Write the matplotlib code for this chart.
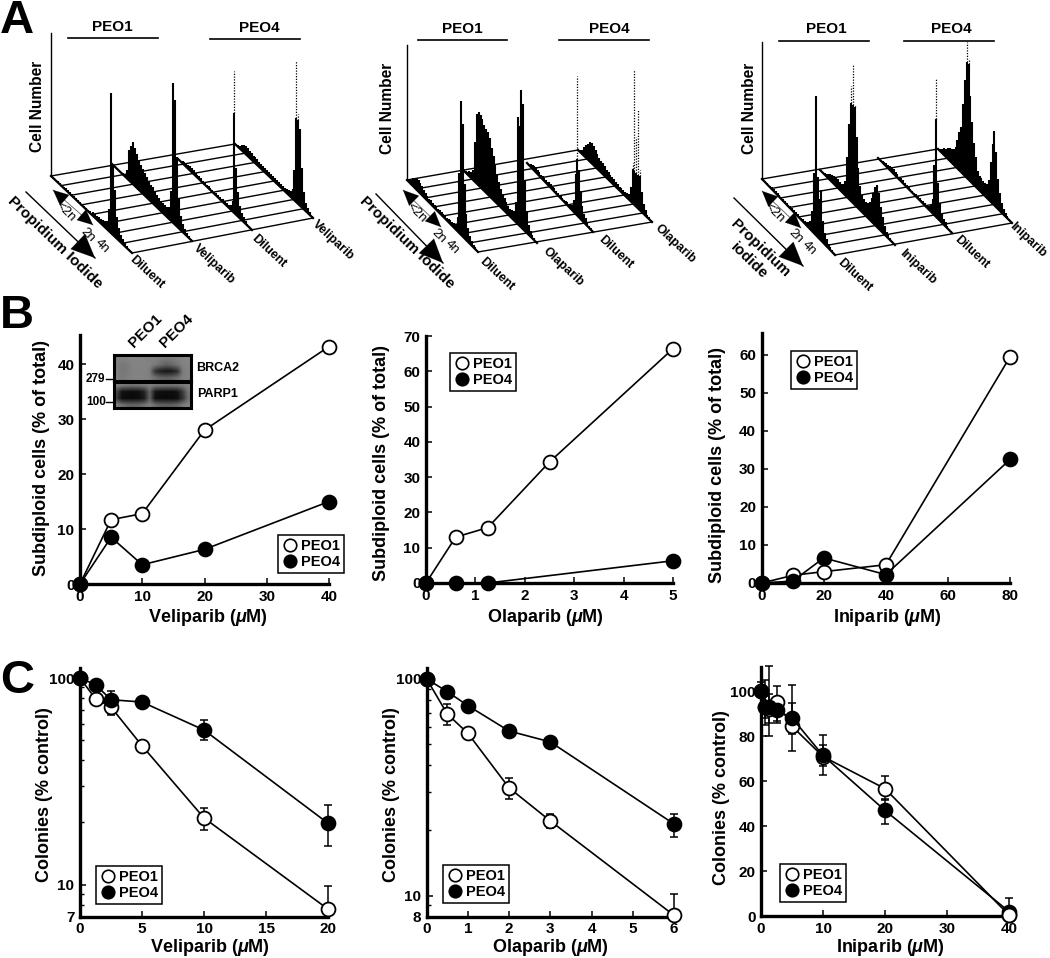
import matplotlib
matplotlib.use("Agg")
import matplotlib.pyplot as plt
import numpy as np
from matplotlib.lines import Line2D

W = 1050
H = 958

plt.rcParams['font.family'] = ['Liberation Sans', 'DejaVu Sans']
plt.rcParams['font.weight'] = 'bold'
plt.rcParams['mathtext.fontset'] = 'custom'
plt.rcParams['mathtext.it'] = 'Liberation Sans:italic:bold'
plt.rcParams['mathtext.rm'] = 'Liberation Sans:bold'

# panel B data
b1_x = [0, 5, 10, 20, 40]
b1_peo1 = [0, 11.7, 12.8, 28, 43.2]
b1_peo4 = [0, 8.5, 3.5, 6.3, 15]
b2_x1 = [0, 0.6, 1.25, 2.5, 5]
b2_peo1 = [0, 13, 15.7, 34.3, 66.4]
b2_x4 = [0, 0.6, 1.25, 5]
b2_peo4 = [0, 0, 0, 6.3]
b3_x = [0, 10, 20, 40, 80]
b3_peo1 = [0, 2, 3, 4.8, 59.5]
b3_peo4 = [0, 0.5, 6.6, 2.2, 32.5]

# panel C data, low/high are the ends of the error bars
c1_x = [0, 1.25, 2.5, 5, 10, 20]
c1_peo1 = [100, 79.3, 72.3, 47, 21, 7.6]
c1_peo1_lo = [100, 79.3, 66, 47, 18.4, 7.6]
c1_peo1_hi = [100, 79.3, 72.3, 47, 23.6, 9.8]
c1_peo4 = [100, 92.8, 78.5, 76.5, 56, 19.8]
c1_peo4_lo = [100, 92.8, 72, 76.5, 50.2, 15.3]
c1_peo4_hi = [100, 92.8, 86.5, 76.5, 62.3, 24.4]

c2_x = [0, 0.5, 1, 2, 3, 6]
c2_peo1 = [100, 68.9, 56.1, 31.4, 22.1, 8.1]
c2_peo1_lo = [100, 61.5, 56.1, 27.9, 20.5, 8.1]
c2_peo1_hi = [100, 76.4, 56.1, 34.9, 23.9, 10.2]
c2_peo4 = [100, 87.4, 75.3, 57.5, 51.2, 21.4]
c2_peo4_lo = [100, 87.4, 75.3, 57.5, 51.2, 18.6]
c2_peo4_hi = [100, 87.4, 75.3, 57.5, 51.2, 23.9]

c3_x = [0, 0.6, 1.25, 2.5, 5, 10, 20, 40]
c3_peo1 = [100, 93, 92, 95.5, 84.5, 71, 56.7, 0.4]
c3_peo1_lo = [100, 85, 80, 86, 73.5, 63, 51.6, 0.4]
c3_peo1_hi = [100, 105, 111.5, 102.4, 95, 80.6, 62.5, 0.4]
c3_peo4 = [100, 93, 93, 91.5, 88.2, 71.5, 47, 2]
c3_peo4_lo = [100, 88, 86, 87, 81, 67, 40.8, 0]
c3_peo4_hi = [104, 98, 99, 96, 102.8, 76, 52, 7.9]

# panel A histograms, 40 bins back to front, height in pixels
vel_p1_dil = [1, 1, 1, 2, 2, 2, 2, 2, 2, 2, 2, 2, 2, 2, 2, 2, 2, 2, 2, 3, 3, 3, 3, 4, 4, 5, 6, 8, 22, 140, 70, 47, 22, 12, 7, 5, 3, 2, 1, 1]
vel_p1_trt = [0, 0, 1, 1, 1, 2, 3, 8, 30, 36, 42, 38, 34, 30, 27, 25, 23, 21, 19, 17, 16, 14, 12, 11, 10, 10, 10, 10, 12, 30, 140, 125, 70, 30, 14, 8, 5, 3, 2, 1]
vel_p4_dil = [0, 1, 2, 3, 4, 4, 5, 4, 4, 3, 3, 3, 3, 2, 2, 2, 2, 2, 2, 2, 2, 2, 2, 2, 3, 3, 3, 3, 5, 10, 142, 47, 25, 12, 7, 5, 3, 2, 1, 1]
vel_p4_trt = [1, 2, 3, 5, 7, 8, 8, 7, 7, 6, 6, 6, 5, 5, 5, 5, 5, 4, 4, 4, 4, 4, 4, 3, 3, 3, 4, 5, 6, 10, 30, 141, 90, 77, 40, 18, 9, 5, 3, 1]

ola_p1_dil = [2, 3, 5, 8, 10, 12, 12, 11, 9, 7, 6, 5, 4, 4, 3, 3, 3, 3, 3, 3, 3, 3, 3, 3, 4, 4, 5, 6, 14, 60, 134, 113, 55, 26, 14, 8, 5, 3, 2, 1]
ola_p1_trt = [1, 2, 3, 5, 6, 10, 40, 70, 74, 72, 70, 66, 64, 63, 58, 50, 44, 37, 30, 24, 18, 15, 13, 11, 9, 8, 8, 9, 20, 107, 100, 137, 125, 50, 22, 10, 6, 3, 2, 1]
ola_p4_dil = [0, 1, 3, 4, 5, 5, 4, 4, 3, 3, 3, 3, 3, 4, 4, 3, 3, 2, 2, 2, 2, 2, 2, 3, 3, 3, 4, 5, 12, 40, 140, 47, 28, 15, 9, 6, 4, 2, 1, 1]
ola_p4_trt = [1, 3, 5, 9, 13, 16, 20, 21, 19, 17, 15, 13, 12, 11, 10, 8, 8, 7, 6, 6, 5, 5, 4, 4, 4, 4, 5, 6, 14, 40, 135, 70, 99, 40, 20, 10, 6, 3, 2, 1]

ini_p1_dil = [1, 1, 1, 1, 2, 2, 2, 2, 2, 2, 2, 2, 2, 2, 2, 2, 2, 2, 2, 2, 2, 2, 3, 3, 4, 5, 8, 20, 60, 139, 60, 40, 51, 22, 12, 7, 4, 3, 2, 1]
ini_p1_trt = [0, 1, 2, 3, 4, 6, 7, 8, 8, 9, 8, 8, 9, 14, 40, 75, 115, 139, 100, 70, 40, 24, 17, 15, 14, 15, 18, 24, 30, 38, 42, 36, 24, 16, 9, 5, 3, 2, 1, 0]
ini_p4_dil = [0, 1, 2, 3, 3, 3, 4, 5, 5, 4, 4, 3, 3, 3, 2, 2, 2, 2, 2, 2, 2, 2, 2, 2, 3, 3, 3, 4, 6, 14, 50, 139, 36, 18, 9, 6, 4, 2, 1, 1]
ini_p4_trt = [1, 3, 5, 7, 8, 11, 13, 14, 16, 20, 28, 38, 45, 70, 96, 136, 120, 85, 61, 42, 30, 18, 15, 14, 13, 13, 14, 20, 40, 60, 74, 55, 30, 18, 10, 6, 4, 2, 1, 1]

# bars above these heights are dotted in the reference
solid_heights = [[999, 999, 100, 84], [999, 999, 57, 34], [999, 98, 98, 116]]

hist_sets = [[vel_p1_dil, vel_p1_trt, vel_p4_dil, vel_p4_trt],
             [ola_p1_dil, ola_p1_trt, ola_p4_dil, ola_p4_trt],
             [ini_p1_dil, ini_p1_trt, ini_p4_dil, ini_p4_trt]]

drugs = ['Veliparib', 'Olaparib', 'Iniparib']

# start (back) and end (front) of the four rows of each 3D plot, in pixels
row_back = [[(51, 176), (112, 164), (178, 159), (235, 144)],
            [(407, 180), (463, 170), (527, 163), (578, 150)],
            [(762, 179), (820, 170), (878, 158), (938, 149)]]
row_front = [[(132, 253), (192, 241), (252, 230), (313, 218)],
             [(478, 252), (537, 243), (593, 232), (652, 222)],
             [(835, 255), (895, 245), (952, 233), (1012, 223)]]
axis_top = [33, 45, 42]
n_grid = 9

fig = plt.figure(figsize=(W / 100, H / 100), dpi=100)
ov = fig.add_axes([0, 0, 1, 1], zorder=10)
ov.set_xlim(0, W)
ov.set_ylim(H, 0)
ov.axis('off')
ov.patch.set_alpha(0)


def px_axes(x0, x1, y_bottom, y_top):
    return fig.add_axes([x0 / W, 1 - y_bottom / H, (x1 - x0) / W, (y_bottom - y_top) / H])


def arrow(p0, p1, scale, head):
    ov.annotate('', xy=p1, xytext=p0,
                arrowprops=dict(arrowstyle='-|>,head_length=%g,head_width=%g' % head,
                                mutation_scale=scale, color='k', lw=0.1, shrinkA=0, shrinkB=0))


# panel A
for p in range(3):
    back = row_back[p]
    front = row_front[p]
    ov.plot([back[0][0], back[0][0]], [back[0][1], axis_top[p]], color='k', lw=1)
    for g in np.linspace(0, 1, n_grid):
        xa = back[0][0] + g * (front[0][0] - back[0][0])
        ya = back[0][1] + g * (front[0][1] - back[0][1])
        xb = back[3][0] + g * (front[3][0] - back[3][0])
        yb = back[3][1] + g * (front[3][1] - back[3][1])
        ov.plot([xa, xb], [ya, yb], color='k', lw=1)
    for r in range(4):
        ov.plot([back[r][0], front[r][0]], [back[r][1], front[r][1]], color='k', lw=1.6)
        heights = np.array(hist_sets[p][r], dtype=float)
        t = (np.arange(40) + 0.5) / 40
        xs = back[r][0] + t * (front[r][0] - back[r][0])
        ys = back[r][1] + t * (front[r][1] - back[r][1])
        solid = np.minimum(heights, solid_heights[p][r])
        ov.vlines(xs, ys, ys - solid, color='k', lw=1.5)
        over = heights > solid
        if over.any():
            ov.vlines(xs[over], (ys - solid)[over], (ys - heights)[over], color='k', lw=0.9,
                      linestyles=(0, (1, 1.2)))

peo_labels = [[(112, 27, 68, 158, 38), (259, 28, 210, 300, 38.5)],
              [(462, 29, 418, 507, 40), (609, 29, 559, 649, 40)],
              [(826, 29, 779, 869, 41), (951, 29, 904, 994, 41)]]
for p in range(3):
    for k, name in enumerate(['PEO1', 'PEO4']):
        tx, ty, x0, x1, yl = peo_labels[p][k]
        ov.text(tx, ty, name, ha='center', va='center', fontsize=11)
        ov.plot([x0, x1], [yl, yl], color='k', lw=1.2)

cell_pos = [(37, 106), (387, 108), (749, 108)]
for x, y in cell_pos:
    ov.text(x, y, 'Cell Number', rotation=90, ha='center', va='center', fontsize=11.2)

end_labels = [[(147, 272), (214, 264), (269, 251), (333, 240)],
              [(497, 274), (563, 267), (616, 252), (675, 244)],
              [(855, 275), (918, 267), (972, 252), (1028, 240)]]
for p in range(3):
    names = ['Diluent', drugs[p], 'Diluent', drugs[p]]
    for (x, y), name in zip(end_labels[p], names):
        ov.text(x, y, name, rotation=-43, ha='center', va='center', fontsize=9,
                rotation_mode='anchor')

pi_lines = [((26, 192), (95, 258)), ((376, 194), (443, 263)), ((734, 198), (803, 266))]
for p0, p1 in pi_lines:
    ov.plot([p0[0], p1[0]], [p0[1], p1[1]], color='k', lw=1)
    arrow(p0, p1, 10, (1.7, 0.75))
pi_texts = [(55, 243, 'Propidium Iodide'), (407, 243, 'Propidium Iodide'),
            (760, 248, 'Propidium'), (749, 261, 'iodide')]
for x, y, name in pi_texts:
    ov.text(x, y, name, rotation=-44, ha='center', va='center', fontsize=11,
            rotation_mode='anchor')

sub_arrows = [((53, 190), (93, 225)), ((403, 190), (441, 227)), ((762, 191), (801, 228))]
for p0, p1 in sub_arrows:
    ov.plot([p0[0], p1[0]], [p0[1], p1[1]], color='#aaaaaa', lw=0.7)
    arrow(p1, p0, 10, (1.1, 0.5))
    arrow(p0, p1, 10, (1.1, 0.5))
n_labels = [[(65, 212), (88, 235), (102, 246)],
            [(416, 213), (439, 236), (452, 247)],
            [(774, 213), (796, 236), (809, 248)]]
for p in range(3):
    for (x, y), name in zip(n_labels[p], ['<2n', '2n', '4n']):
        ov.text(x, y, name, rotation=-45, ha='center', va='center', fontsize=9.5,
                fontweight='normal', rotation_mode='anchor')

ov.text(0, 33, 'A', fontsize=34, ha='left', va='baseline')
ov.text(0, 328, 'B', fontsize=34, ha='left', va='baseline')
ov.text(0, 693, 'C', fontsize=34, ha='left', va='baseline')

# panel B
b_axes = [px_axes(80, 329, 584, 335), px_axes(426, 673, 583, 336), px_axes(761.7, 1010, 583, 333.3)]
b_ylim = [45.3, 70, 65.7]
b_xlim = [40, 5, 80]
b_xticks = [[0, 10, 20, 30, 40], [0, 1, 2, 3, 4, 5], [0, 20, 40, 60, 80]]
b_yticks = [[0, 10, 20, 30, 40], [0, 10, 20, 30, 40, 50, 60, 70], [0, 10, 20, 30, 40, 50, 60]]
b_data = [(b1_x, b1_peo1, b1_x, b1_peo4), (b2_x1, b2_peo1, b2_x4, b2_peo4), (b3_x, b3_peo1, b3_x, b3_peo4)]
b_xlabel = [(208, 617), (545, 617), (887, 617)]
b_ylabel = [(42, 458), (381, 463), (718, 465)]
b_legend = [(311, 554), (483, 372), (824, 370)]
c_xlabel = [(210, 948), (550, 948), (890, 948)]
c_ylabel = [(45, 795), (391, 795), (722, 798)]
c_legend = [(129, 885), (476, 884), (813, 883)]


def style(ax, xlab_pos, ylab_pos, xlab, ylab, leg_pos):
    ax.spines['top'].set_visible(False)
    ax.spines['right'].set_visible(False)
    ax.spines['left'].set_linewidth(2.4)
    ax.spines['bottom'].set_linewidth(2.4)
    ax.tick_params(which='major', direction='in', length=4, width=1.1, labelsize=11, pad=4)
    ax.tick_params(which='minor', direction='in', length=3, width=1)
    ax.set_xlabel(xlab, fontsize=13, fontweight='bold', va='center')
    ax.set_ylabel(ylab, fontsize=13, fontweight='bold', va='center')
    ax.xaxis.set_label_coords(xlab_pos[0], xlab_pos[1], transform=ov.transData)
    ax.yaxis.set_label_coords(ylab_pos[0], ylab_pos[1], transform=ov.transData)
    handles = [Line2D([], [], ls='', marker='o', ms=9, mfc='w', mec='k', mew=1.2),
               Line2D([], [], ls='', marker='o', ms=9, mfc='k', mec='k', mew=1.2)]
    leg = ax.legend(handles, ['PEO1', 'PEO4'], loc='center', bbox_to_anchor=leg_pos,
                    bbox_transform=ov.transData, fancybox=False, edgecolor='k', framealpha=1,
                    fontsize=10.5, handlelength=1.0, handletextpad=0.25, labelspacing=0.1,
                    borderpad=0.3, borderaxespad=0)
    leg.get_frame().set_linewidth(1.1)


for i, ax in enumerate(b_axes):
    x1, y1, x4, y4 = b_data[i]
    ax.plot(x1, y1, '-o', color='k', lw=1.2, ms=10, mfc='w', mec='k', mew=1.3, clip_on=False, zorder=5)
    ax.plot(x4, y4, '-o', color='k', lw=1.2, ms=10, mfc='k', mec='k', mew=1.3, clip_on=False, zorder=6)
    ax.set_xlim(0, b_xlim[i])
    ax.set_ylim(0, b_ylim[i])
    ax.set_xticks(b_xticks[i])
    ax.set_yticks(b_yticks[i])
    style(ax, b_xlabel[i], b_ylabel[i], drugs[i] + r' ($\mu$M)', 'Subdiploid cells (% of total)', b_legend[i])

# western blot inset
blot_top = [[128, 130, 132, 134, 132, 130, 130, 128, 125, 122, 124, 128, 132, 134],
            [126, 120, 124, 130, 132, 132, 128, 122, 108, 96, 104, 116, 128, 132],
            [126, 118, 122, 130, 130, 130, 124, 50, 28, 22, 26, 46, 122, 130],
            [128, 122, 126, 130, 132, 130, 126, 112, 100, 96, 100, 112, 126, 132]]
blot_bottom = [[128, 122, 118, 116, 118, 122, 128, 122, 118, 116, 116, 118, 124, 130],
               [70, 18, 14, 12, 16, 34, 100, 22, 14, 12, 12, 18, 60, 118],
               [62, 12, 10, 10, 12, 26, 96, 14, 10, 10, 10, 12, 50, 112],
               [128, 112, 100, 98, 102, 114, 126, 108, 96, 94, 94, 102, 120, 130]]
for rows, top, bottom in [(blot_top, 355, 381), (blot_bottom, 382, 408)]:
    bax = px_axes(113.5, 190.5, bottom, top)
    bax.imshow(rows, cmap='gray', vmin=0, vmax=255, aspect='auto', interpolation='bilinear')
    bax.set_xticks([])
    bax.set_yticks([])
    for s in bax.spines.values():
        s.set_linewidth(2.2)
ov.text(146, 331, 'PEO1', rotation=45, ha='center', va='center', fontsize=11, rotation_mode='anchor')
ov.text(177, 331, 'PEO4', rotation=45, ha='center', va='center', fontsize=11, rotation_mode='anchor')
ov.text(196, 368, 'BRCA2', ha='left', va='center', fontsize=9)
ov.text(197, 394, 'PARP1', ha='left', va='center', fontsize=9)
ov.text(86, 379, '279', ha='left', va='center', fontsize=8.5)
ov.text(86, 402, '100', ha='left', va='center', fontsize=8.5)
ov.plot([106, 113], [379, 379], color='k', lw=1)
ov.plot([106, 113], [402, 402], color='k', lw=1)

# panel C
c_axes = [px_axes(80, 328, 916.5, 668), px_axes(426.7, 674, 916.5, 668), px_axes(761, 1009, 916, 666.7)]
c_data = [(c1_x, c1_peo1, c1_peo1_lo, c1_peo1_hi, c1_peo4, c1_peo4_lo, c1_peo4_hi),
          (c2_x, c2_peo1, c2_peo1_lo, c2_peo1_hi, c2_peo4, c2_peo4_lo, c2_peo4_hi),
          (c3_x, c3_peo1, c3_peo1_lo, c3_peo1_hi, c3_peo4, c3_peo4_lo, c3_peo4_hi)]
c_ylim = [(7, 111.8), (8, 112.4), (0, 111)]
c_xlim = [20, 6, 40]
c_xticks = [[0, 5, 10, 15, 20], [0, 1, 2, 3, 4, 5, 6], [0, 10, 20, 30, 40]]

for i, ax in enumerate(c_axes):
    x, y1, lo1, hi1, y4, lo4, hi4 = c_data[i]
    x = np.array(x)
    for y, lo, hi, fill, z in [(y1, lo1, hi1, 'w', 5), (y4, lo4, hi4, 'k', 6)]:
        y = np.array(y)
        err = [y - np.array(lo), np.array(hi) - y]
        ax.errorbar(x, y, yerr=err, fmt='none', ecolor='k', elinewidth=1.1, capsize=2.6, capthick=1.1,
                    clip_on=False, zorder=3)
        ax.plot(x, y, '-o', color='k', lw=1.2, ms=10, mfc=fill, mec='k', mew=1.3, clip_on=False, zorder=z)
    if i < 2:
        ax.set_yscale('log')
    ax.set_xlim(0, c_xlim[i])
    ax.set_ylim(c_ylim[i])
    ax.set_xticks(c_xticks[i])
    if i == 0:
        ax.set_yticks([7, 10, 100])
        ax.set_yticklabels(['7', '10', '100'])
    elif i == 1:
        ax.set_yticks([8, 10, 100])
        ax.set_yticklabels(['8', '10', '100'])
    else:
        ax.set_yticks([0, 20, 40, 60, 80, 100])
    style(ax, c_xlabel[i], c_ylabel[i], drugs[i] + r' ($\mu$M)', 'Colonies (% control)', c_legend[i])

# white PEO1 marker sits on top of the black one at 40 uM
c_axes[2].plot(c3_x[-1], c3_peo1[-1], 'o', ms=10, mfc='w', mec='k', mew=1.3, clip_on=False, zorder=7)

plt.savefig('out.png', dpi=100)
